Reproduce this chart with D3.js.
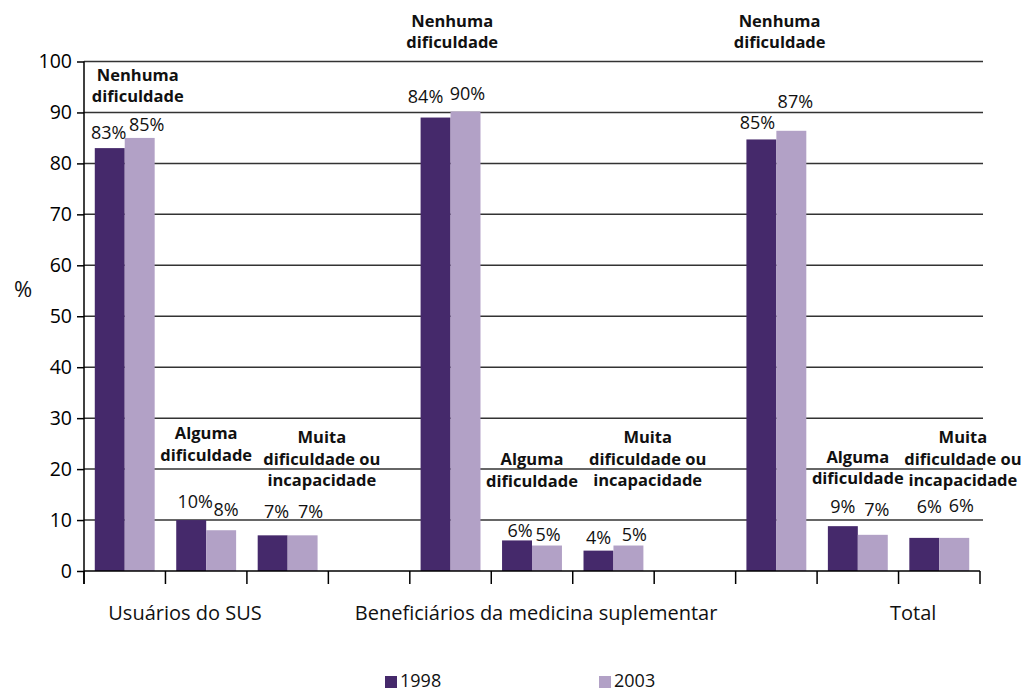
<!DOCTYPE html>
<html>
<head>
<meta charset="utf-8">
<script src="https://cdn.jsdelivr.net/npm/d3@7"></script>
<style>
  html, body { margin: 0; padding: 0; background: #fff; }
  svg { display: block; font-family: "Open Sans", "Noto Sans", sans-serif; }
</style>
</head>
<body>
<svg id="chart" width="1026" height="693"></svg>
<script>
// ---------------- DATA ----------------
const groups = ["Usuários do SUS", "Beneficiários da medicina suplementar", "Total"];
const categories = [
  ["Nenhuma", "dificuldade"],
  ["Alguma", "dificuldade"],
  ["Muita", "dificuldade ou", "incapacidade"]
];
const series = ["1998", "2003"];
// bar heights as drawn (per group, per category)
const values1998 = [83, 10, 7, 89, 6, 4, 84.7, 8.8, 6.5];
const values2003 = [85, 8, 7, 90.2, 5, 5, 86.4, 7.1, 6.5];
// value labels as printed
const labels1998 = ["83%", "10%", "7%", "84%", "6%", "4%", "85%", "9%", "6%"];
const labels2003 = ["85%", "8%", "7%", "90%", "5%", "5%", "87%", "7%", "6%"];
const yTicks = [0, 10, 20, 30, 40, 50, 60, 70, 80, 90, 100];
const yTitle = "%";

// ---------------- LAYOUT (annotation placement) ----------------
// value-label baseline in y units, and horizontal nudge (px)
const labelY1998 = [84.8, 12.4, 10.4, 91.9, 6.7, 5.3, 86.7, 11.4, 11.4];
const labelY2003 = [86.4, 10.7, 10.4, 92.4, 5.9, 5.9, 90.9, 10.8, 11.6];
const labelDx1998 = [-1, 4, 4, -10, 3, 0, -4, 0, 5];
const labelDx2003 = [7, 5, 8, 2, 1, 6, 4, 4, 7];
// category label: first-line baseline in y units, horizontal offset in bandwidths
const catLabelY = [96.2, 25.9, 25.1, 106.8, 20.8, 25.1, 106.8, 21.2, 25.1];
const catLabelDx = [0.16, 0, 0.42, 0.02, 0, 0.42, 0.04, 0, 0.29];
// group label centre in slot units
const groupLabelPos = [1.24, 5.55, 10.18];

const colors = { "1998": "#45296b", "2003": "#b2a1c6" };

// ---------------- BUILD ----------------
const svg = d3.select("#chart");
const x0 = 84, x1 = 980, yBottom = 571, yTop = 61.5;

// slots: 3 categories per group, a blank slot between groups
const slots = [];
groups.forEach((g, gi) => {
  categories.forEach((c, ci) => slots.push(`${gi}-${ci}`));
  if (gi < groups.length - 1) slots.push(`gap-${gi}`);
});

const x = d3.scaleBand().domain(slots).range([x0, x1]).padding(0);
const bw = x.bandwidth();
const xs = d3.scaleBand().domain(series).range([0, bw]).paddingInner(0).paddingOuter(0.36);
const y = d3.scaleLinear().domain([0, 100]).range([yBottom, yTop]);

const rows = [];
groups.forEach((g, gi) => categories.forEach((c, ci) => {
  const i = gi * categories.length + ci;
  rows.push({ i, slot: `${gi}-${ci}`, lines: c,
    vals: { "1998": values1998[i], "2003": values2003[i] },
    labs: { "1998": labels1998[i], "2003": labels2003[i] },
    ly: { "1998": labelY1998[i], "2003": labelY2003[i] },
    ldx: { "1998": labelDx1998[i], "2003": labelDx2003[i] } });
}));

// gridlines
svg.append("g")
  .selectAll("line")
  .data(yTicks.filter(t => t > 0))
  .join("line")
  .attr("x1", x0).attr("x2", 983)
  .attr("y1", d => y(d)).attr("y2", d => y(d))
  .attr("stroke", "#333").attr("stroke-width", 1.5);

// bars
const bars = svg.append("g");
rows.forEach(r => {
  series.forEach(s => {
    bars.append("rect")
      .attr("x", x(r.slot) + xs(s))
      .attr("y", y(r.vals[s]))
      .attr("width", xs.bandwidth())
      .attr("height", y(0) - y(r.vals[s]))
      .attr("fill", colors[s]);
  });
});

// y axis
const yAxis = d3.axisLeft(y).tickValues(yTicks).tickSize(7).tickPadding(5);
const gy = svg.append("g").attr("transform", `translate(${x0},0)`).call(yAxis);
gy.select(".domain").remove();
gy.selectAll(".tick line").attr("stroke", "#000").attr("stroke-width", 1.5);
gy.selectAll(".tick text").attr("font-size", 19.5).attr("fill", "#000")
  .attr("font-family", "'Open Sans', sans-serif");
svg.append("line").attr("x1", x0).attr("x2", x0).attr("y1", y(100)).attr("y2", yBottom + 13)
  .attr("stroke", "#000").attr("stroke-width", 1.5);

// x axis
const xAxis = d3.axisBottom(x).tickSize(0).tickFormat("");
const gx = svg.append("g").attr("transform", `translate(0,${yBottom})`).call(xAxis);
gx.select(".domain").attr("stroke", "#000").attr("stroke-width", 1.5).attr("d", `M${x0},0H${x1}`);
gx.selectAll(".tick").remove();
const boundaries = slots.map(s => x(s)).concat([x1]);
gx.selectAll("line.sep").data(boundaries).join("line").attr("class", "sep")
  .attr("x1", d => d).attr("x2", d => d).attr("y1", 0).attr("y2", 13)
  .attr("stroke", "#000").attr("stroke-width", 1.5);

// value labels
const vl = svg.append("g").attr("font-size", 18).attr("fill", "#111").attr("text-anchor", "middle");
rows.forEach(r => {
  series.forEach(s => {
    vl.append("text")
      .attr("x", x(r.slot) + xs(s) + xs.bandwidth() / 2 + r.ldx[s])
      .attr("y", y(r.ly[s]))
      .text(r.labs[s]);
  });
});

// category labels
const cl = svg.append("g").attr("font-size", 16.5).attr("font-weight", "bold").attr("fill", "#111")
  .attr("text-anchor", "middle");
rows.forEach(r => {
  const cx = x(r.slot) + bw / 2 + catLabelDx[r.i] * bw;
  const t = cl.append("text").attr("x", cx).attr("y", y(catLabelY[r.i]));
  r.lines.forEach((ln, k) => {
    t.append("tspan").attr("x", cx).attr("dy", k === 0 ? 0 : 21.5).text(ln);
  });
});

// group labels
svg.append("g").attr("font-size", 20).attr("fill", "#111").attr("text-anchor", "middle")
  .selectAll("text").data(groups).join("text")
  .attr("x", (d, i) => x0 + groupLabelPos[i] * bw)
  .attr("y", 620)
  .text(d => d);

// y title
svg.append("text").attr("x", 23).attr("y", 297).attr("text-anchor", "middle")
  .attr("font-size", 22).attr("fill", "#111").text(yTitle);

// legend
const legendX = [385, 599];
const lg = svg.append("g");
series.forEach((s, i) => {
  lg.append("rect").attr("x", legendX[i]).attr("y", 676).attr("width", 12).attr("height", 12)
    .attr("fill", colors[s]);
  lg.append("text").attr("x", legendX[i] + 15).attr("y", 687).attr("font-size", 18)
    .attr("fill", "#111").text(s);
});
</script>
</body>
</html>
